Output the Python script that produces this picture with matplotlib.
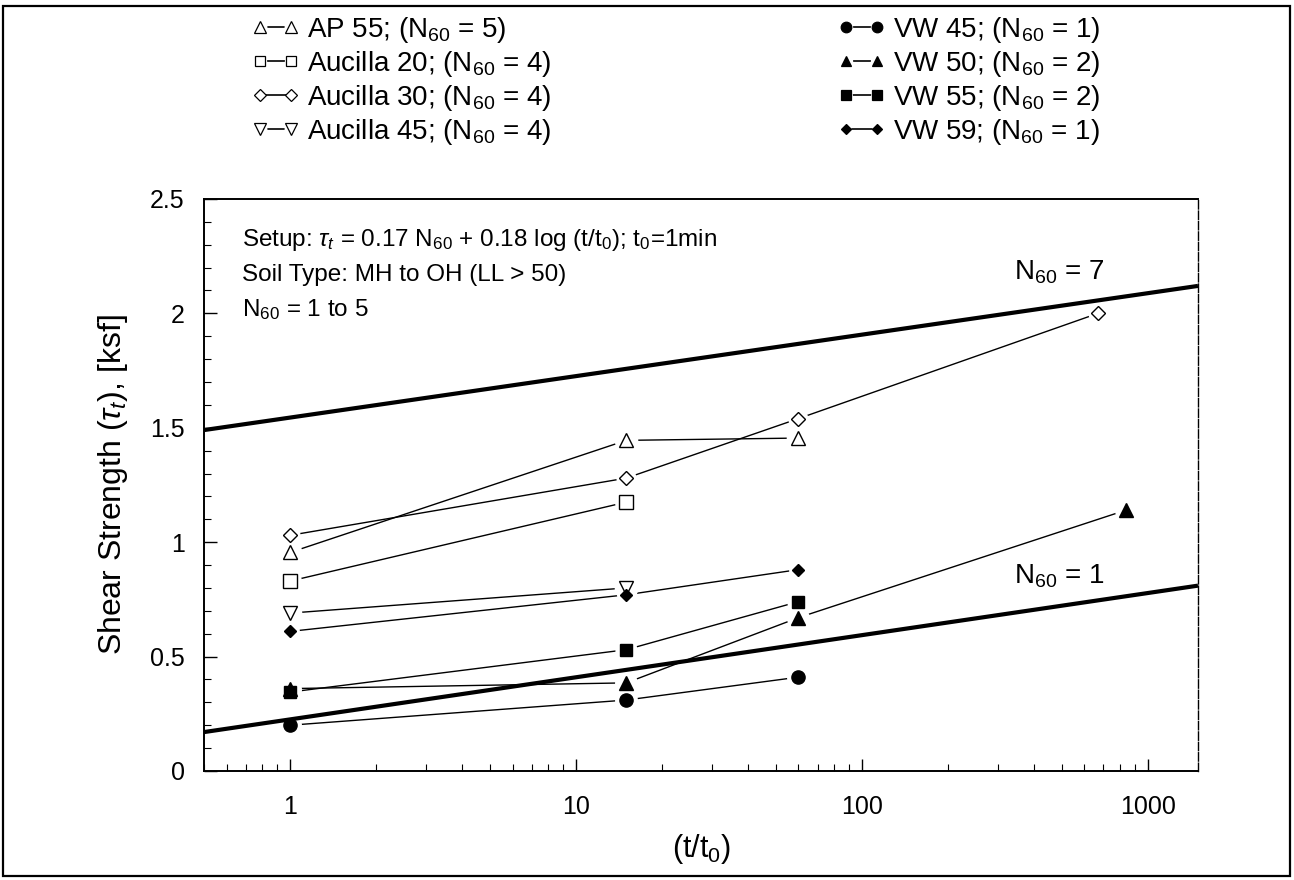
import numpy as np
import matplotlib
matplotlib.use('Agg')
import matplotlib.pyplot as plt
from matplotlib.lines import Line2D
from matplotlib.patches import Rectangle
from matplotlib.ticker import MultipleLocator, LogLocator, NullFormatter

plt.rcParams['font.family'] = ['Liberation Sans', 'DejaVu Sans']
plt.rcParams['mathtext.fontset'] = 'custom'
plt.rcParams['mathtext.rm'] = 'Liberation Sans'
plt.rcParams['mathtext.it'] = 'Liberation Sans:italic'
plt.rcParams['mathtext.bf'] = 'Liberation Sans:bold'

# time ratio t/t0 and shear strength (ksf)
ap55_x = [1, 15, 60]
ap55_y = [0.955, 1.445, 1.455]
auc20_x = [1, 15]
auc20_y = [0.83, 1.175]
auc30_x = [1, 15, 60, 670]
auc30_y = [1.03, 1.28, 1.54, 2.0]
auc45_x = [1, 15]
auc45_y = [0.69, 0.80]
vw45_x = [1, 15, 60]
vw45_y = [0.20, 0.31, 0.41]
vw50_x = [1, 15, 60, 840]
vw50_y = [0.36, 0.385, 0.67, 1.14]
vw55_x = [1, 15, 60]
vw55_y = [0.345, 0.53, 0.74]
vw59_x = [1, 15, 60]
vw59_y = [0.61, 0.77, 0.88]

# bounding lines (endpoints)
bound_x = [0.5, 1500]
n7_y = [1.49, 2.12]
n1_y = [0.17, 0.81]

labels = ['AP 55; (N$_{60}$ = 5)', 'Aucilla 20; (N$_{60}$ = 4)',
          'Aucilla 30; (N$_{60}$ = 4)', 'Aucilla 45; (N$_{60}$ = 4)',
          'VW 45; (N$_{60}$ = 1)', 'VW 50; (N$_{60}$ = 2)',
          'VW 55; (N$_{60}$ = 2)', 'VW 59; (N$_{60}$ = 1)']

series = [
    (ap55_x, ap55_y, '^', 'white', 10),
    (auc20_x, auc20_y, 's', 'white', 9.5),
    (auc30_x, auc30_y, 'D', 'white', 7.5),
    (auc45_x, auc45_y, 'v', 'white', 10),
    (vw45_x, vw45_y, 'o', 'black', 9.5),
    (vw50_x, vw50_y, '^', 'black', 9.5),
    (vw55_x, vw55_y, 's', 'black', 9),
    (vw59_x, vw59_y, 'D', 'black', 6.5),
]

fig = plt.figure(figsize=(12.94, 8.80), dpi=100)
ax = fig.add_axes([0.1577, 0.1239, 0.7681, 0.65])

handles = []
for (x, y, m, fc, ms) in series:
    ax.plot(x, y, color='black', lw=1.0, zorder=2)
    ax.plot(x, y, ls='none', marker='o', ms=ms + 7, mfc='white', mec='none', zorder=3)
    ax.plot(x, y, ls='none', marker=m, ms=ms, mfc=fc, mec='black', mew=1.0, zorder=5)
    h = (Line2D([], [], color='black', lw=1.2),
         Line2D([], [], ls='none', marker='o', ms=ms * 0.8 + 2, mfc='white', mec='none'),
         Line2D([], [], ls='none', marker=m, ms=ms * 0.8, mfc=fc, mec='black', mew=0.9))
    handles.append(h)

ax.plot(bound_x, n7_y, color='black', lw=3.0, zorder=4, solid_capstyle='butt')
ax.plot(bound_x, n1_y, color='black', lw=3.0, zorder=4, solid_capstyle='butt')
ax.text(340, 2.15, 'N$_{60}$ = 7', fontsize=20, ha='left', va='baseline')
ax.text(340, 0.82, 'N$_{60}$ = 1', fontsize=20, ha='left', va='baseline')

ax.text(0.038, 0.928, r'Setup: $\tau_t$ = 0.17 N$_{60}$ + 0.18 log (t/t$_0$); t$_0$=1min',
        transform=ax.transAxes, fontsize=17.5, va='center')
ax.text(0.038, 0.867, 'Soil Type: MH to OH (LL > 50)',
        transform=ax.transAxes, fontsize=17.5, va='center')
ax.text(0.038, 0.806, 'N$_{60}$ = 1 to 5',
        transform=ax.transAxes, fontsize=17.5, va='center')

ax.set_xscale('log')
ax.set_xlim(0.5, 1500)
ax.set_ylim(0, 2.5)
ax.set_xticks([1, 10, 100, 1000])
ax.set_xticklabels(['1', '10', '100', '1000'])
ax.xaxis.set_minor_locator(LogLocator(base=10, subs=np.arange(2, 10)))
ax.xaxis.set_minor_formatter(NullFormatter())
ax.set_yticks([0, 0.5, 1, 1.5, 2, 2.5])
ax.set_yticklabels(['0', '0.5', '1', '1.5', '2', '2.5'])
ax.yaxis.set_minor_locator(MultipleLocator(0.1))
ax.tick_params(which='both', direction='in', top=False, right=False, labelsize=18)
ax.tick_params(which='major', length=9, width=1.0)
ax.tick_params(which='minor', length=5, width=0.8)
ax.tick_params(axis='y', which='major', pad=14)
ax.tick_params(axis='x', which='major', pad=17)

ax.set_xlabel('(t/t$_0$)', fontsize=22, labelpad=10)
ax.set_ylabel(r'Shear Strength ($\tau_t$), [ksf]', fontsize=23, labelpad=14)

for s in ['left', 'bottom', 'top']:
    ax.spines[s].set_linewidth(1.4)
ax.spines['right'].set_linewidth(1.0)
ax.spines['right'].set_linestyle((0, (6, 1.5)))

leg_kw = dict(frameon=False, loc='upper left', borderpad=0, fontsize=20,
              numpoints=2, handlelength=1.7, handletextpad=0.3, labelspacing=0.14)
fig.legend(handles[:4], labels[:4], bbox_to_anchor=(238 / 1294, 1 - 1 / 880), **leg_kw)
fig.legend(handles[4:], labels[4:], bbox_to_anchor=(824 / 1294, 1 - 1 / 880), **leg_kw)

fig.patches.append(Rectangle((3 / 1294, 4 / 880), 1287 / 1294, 870 / 880,
                             transform=fig.transFigure, fill=False,
                             edgecolor='black', lw=1.6))

fig.savefig('out.png', dpi=100)
plt.close(fig)
